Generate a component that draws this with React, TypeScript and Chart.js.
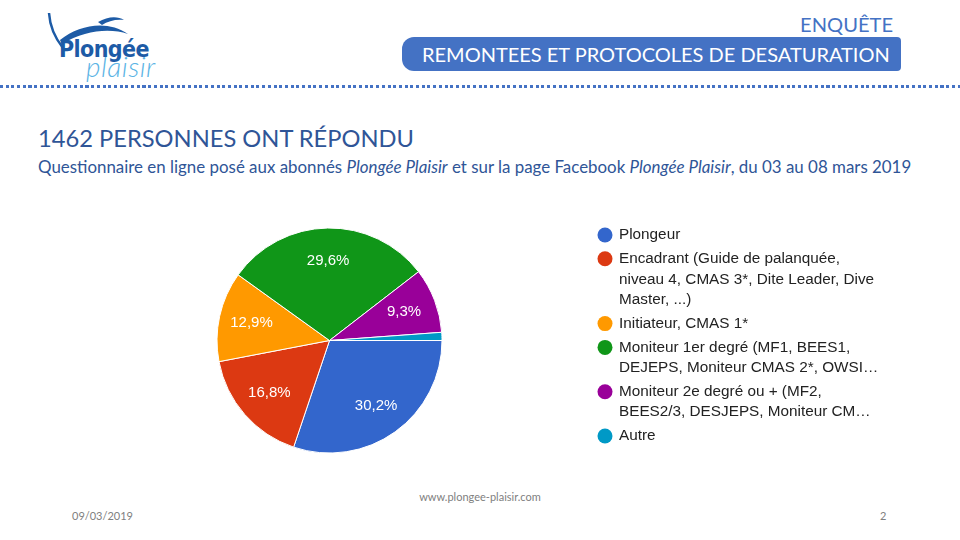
import React, { useEffect, useRef } from "react";
import { Chart, registerables } from "chart.js";

Chart.register(...registerables);

// ---- data ----
const categoryLines: string[][] = [
  ["Plongeur"],
  ["Encadrant (Guide de palanquée,", "niveau 4, CMAS 3*, Dite Leader, Dive", "Master, ...)"],
  ["Initiateur, CMAS 1*"],
  ["Moniteur 1er degré (MF1, BEES1,", "DEJEPS, Moniteur CMAS 2*, OWSI…"],
  ["Moniteur 2e degré ou + (MF2,", "BEES2/3, DESJEPS, Moniteur CM…"],
  ["Autre"],
];
const responseCounts: number[] = [441, 246, 189, 433, 136, 17];
const sliceColors: string[] = ["#3366cc", "#dc3912", "#ff9900", "#109618", "#990099", "#0099c6"];

const FONT = '"Liberation Sans", Arial, sans-serif';

const sliceLabelPlugin = {
  id: "sliceLabels",
  afterDatasetsDraw(chart: any) {
    const ctx = chart.ctx;
    const meta = chart.getDatasetMeta(0);
    const values: number[] = chart.data.datasets[0].data;
    const total = values.reduce((a, b) => a + b, 0);
    ctx.save();
    ctx.font = `15px ${FONT}`;
    ctx.fillStyle = "#ffffff";
    ctx.textAlign = "center";
    ctx.textBaseline = "middle";
    meta.data.forEach((arc: any, i: number) => {
      const pct = (values[i] / total) * 100;
      if (pct < 5) return;
      const p = arc.getProps(["x", "y", "startAngle", "endAngle", "outerRadius"], true);
      const mid = (p.startAngle + p.endAngle) / 2;
      const r = p.outerRadius * 0.71;
      ctx.fillText(pct.toFixed(1).replace(".", ",") + "%", p.x + Math.cos(mid) * r, p.y + Math.sin(mid) * r);
    });
    ctx.restore();
  },
};

const legendPlugin = {
  id: "sideLegend",
  afterDraw(chart: any) {
    const ctx = chart.ctx;
    const lines: string[][] = chart.data.labels;
    const colors: string[] = chart.data.datasets[0].backgroundColor;
    const circleX = 425;
    const textX = 439;
    const lineH = 20.5;
    const gap = 23.8;
    let y = 35;
    ctx.save();
    ctx.font = `15.3px ${FONT}`;
    ctx.textAlign = "left";
    ctx.textBaseline = "middle";
    lines.forEach((item, i) => {
      ctx.fillStyle = colors[i];
      ctx.beginPath();
      ctx.arc(circleX, y, 7.5, 0, Math.PI * 2);
      ctx.fill();
      ctx.fillStyle = "#222222";
      item.forEach((t, j) => {
        ctx.fillText(t, textX, y + j * lineH);
      });
      y += (item.length - 1) * lineH + gap;
    });
    ctx.restore();
  },
};

function PieChart() {
  const ref = useRef<HTMLCanvasElement>(null);
  useEffect(() => {
    if (!ref.current) return;
    const chart = new Chart(ref.current, {
      type: "pie",
      data: {
        labels: categoryLines as any,
        datasets: [
          {
            data: responseCounts,
            backgroundColor: sliceColors,
            borderColor: "#ffffff",
            borderWidth: 1,
          },
        ],
      },
      options: {
        animation: false,
        responsive: false,
        rotation: 90,
        layout: { padding: { left: 36.5, top: 27.5, right: 477.5, bottom: 26.5 } },
        plugins: {
          legend: { display: false },
          tooltip: { enabled: false },
          title: { display: false },
        },
      },
      plugins: [sliceLabelPlugin, legendPlugin],
    });
    return () => chart.destroy();
  }, []);
  return (
    <canvas
      ref={ref}
      width={740}
      height={280}
      style={{ position: "absolute", left: 180, top: 200, width: 740, height: 280 }}
    />
  );
}

export default function App() {
  const blue = "#4472c4";
  const dark = "#2f5597";
  return (
    <div
      style={{
        position: "absolute",
        left: 0,
        top: 0,
        width: 960,
        height: 540,
        background: "#ffffff",
        overflow: "hidden",
        fontFamily: "Lato, 'Open Sans', sans-serif",
      }}
    >
      {/* logo */}
      <svg width={130} height={80} style={{ position: "absolute", left: 40, top: 8 }} viewBox="0 0 130 80">
        <path d="M9 5 C 10 20, 15 30, 23 40" stroke="#1d5ba6" strokeWidth={2.5} fill="none" />
        <path d="M20 32 C 40 16, 68 12, 88 26 C 70 20, 45 22, 22 36 Z" fill="#1d5ba6" />
        <path d="M58 14 C 68 8, 78 8, 84 12 C 76 11, 68 13, 62 17 Z" fill="#1d5ba6" />
      </svg>
      <div
        style={{
          position: "absolute",
          left: 59,
          top: 36,
          fontFamily: "'DejaVu Sans Condensed', 'Liberation Sans Narrow', sans-serif",
          fontWeight: "bold",
          fontSize: 23,
          color: "#1d5ba6",
          letterSpacing: -0.6,
          lineHeight: "26px",
        }}
      >
        Plongée
      </div>
      <div
        style={{
          position: "absolute",
          left: 86,
          top: 52,
          fontFamily: "Lato, sans-serif",
          fontStyle: "italic",
          fontWeight: 300,
          fontSize: 28,
          color: "#5bb4e5",
          lineHeight: "28px",
          letterSpacing: 0.5,
        }}
      >
        plaisir
      </div>

      {/* header */}
      <div
        style={{
          position: "absolute",
          right: 67,
          top: 11,
          fontSize: 20.1,
          lineHeight: "26px",
          color: blue,
        }}
      >
        ENQUÊTE
      </div>
      <div
        style={{
          position: "absolute",
          left: 402,
          top: 37,
          width: 499,
          height: 34,
          background: blue,
          borderRadius: "12px 4px 4px 12px",
          color: "#ffffff",
          fontSize: 20,
          lineHeight: "34px",
          paddingLeft: 20,
          boxSizing: "border-box",
          whiteSpace: "nowrap",
        }}
      >
        REMONTEES ET PROTOCOLES DE DESATURATION
      </div>
      <div
        style={{
          position: "absolute",
          left: 0,
          top: 85,
          width: 960,
          height: 2.5,
          background: `repeating-linear-gradient(to right, ${blue} 0px, ${blue} 3px, transparent 3px, transparent 5.7px)`,
        }}
      />

      {/* titles */}
      <div
        style={{
          position: "absolute",
          left: 38,
          top: 123,
          fontSize: 23.7,
          lineHeight: "30px",
          color: dark,
          whiteSpace: "nowrap",
        }}
      >
        1462 PERSONNES ONT RÉPONDU
      </div>
      <div
        style={{
          position: "absolute",
          left: 38,
          top: 157,
          fontSize: 16.9,
          lineHeight: "20px",
          color: dark,
          whiteSpace: "nowrap",
        }}
      >
        Questionnaire en ligne posé aux abonnés <i>Plongée Plaisir</i> et sur la page Facebook{" "}
        <i>Plongée Plaisir</i>, du 03 au 08 mars 2019
      </div>

      <PieChart />

      {/* footer */}
      <div
        style={{
          position: "absolute",
          left: 0,
          width: 960,
          top: 490,
          textAlign: "center",
          fontSize: 11,
          color: "#808080",
          lineHeight: "14px",
        }}
      >
        www.plongee-plaisir.com
      </div>
      <div style={{ position: "absolute", left: 72, top: 509, fontSize: 11, color: "#808080", lineHeight: "14px" }}>
        09/03/2019
      </div>
      <div style={{ position: "absolute", left: 880, top: 509, fontSize: 11, color: "#808080", lineHeight: "14px" }}>
        2
      </div>
    </div>
  );
}
